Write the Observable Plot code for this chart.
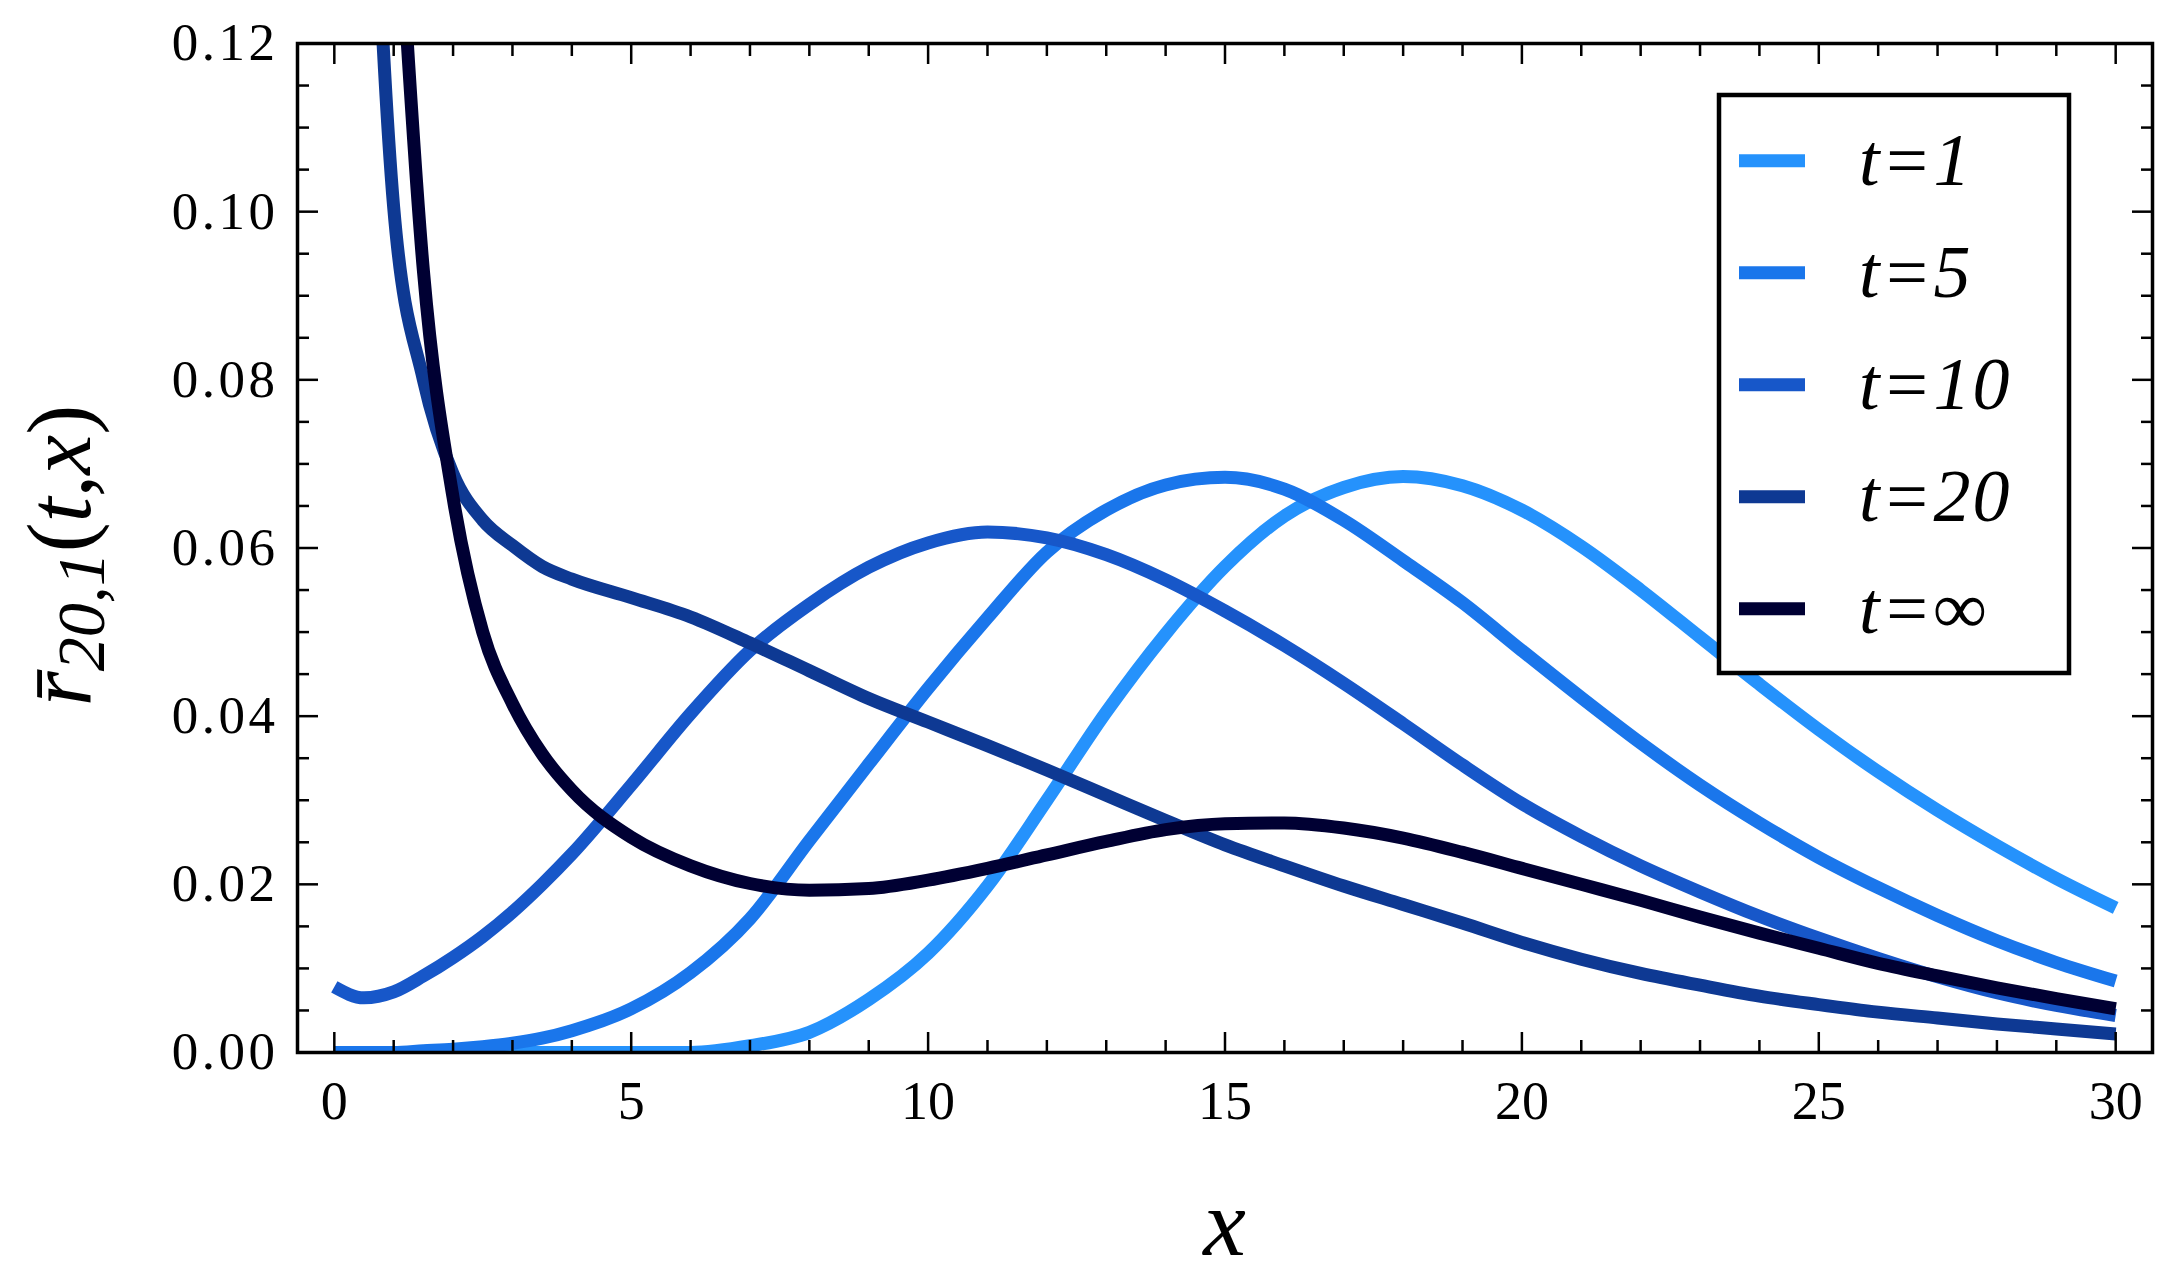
<!DOCTYPE html>
<html><head><meta charset="utf-8">
<script src="https://cdn.jsdelivr.net/npm/d3@7"></script>
<script src="https://cdn.jsdelivr.net/npm/@observablehq/plot@0.6"></script>
<style>
html,body{margin:0;padding:0;background:#fff;}
#wrap{position:relative;width:2179px;height:1288px;overflow:hidden;}
#wrap svg text{font-family:"Liberation Serif","Times New Roman",serif;}
g[aria-label="y-axis tick label"] text{letter-spacing:3.5px;}
</style></head><body><div id="wrap"></div>
<script>
// ---- data ----
const xs = [0, 0.5, 1, 1.5, 2, 2.5, 3, 3.5, 4, 5, 6, 7, 8, 9, 10, 11, 12, 13, 14, 15, 16, 17, 18, 19, 20, 21, 22, 23, 24, 25, 26, 27, 28, 29, 30];
const t1 = [0, 0, 0, 0, 0, 0, 0, 0, 0, 0, 0, 0.0008, 0.0024, 0.0063, 0.0118, 0.0198, 0.0300, 0.0405, 0.0498, 0.0578, 0.0638, 0.0672, 0.0685, 0.0674, 0.0645, 0.0602, 0.0550, 0.0494, 0.0438, 0.0384, 0.0334, 0.0288, 0.0246, 0.0207, 0.0172];
const t5 = [0, 0, 0, 0.0002, 0.0004, 0.0007, 0.0011, 0.0017, 0.0026, 0.0052, 0.0095, 0.0159, 0.0252, 0.0343, 0.0433, 0.0517, 0.0595, 0.0645, 0.0675, 0.0684, 0.0670, 0.0633, 0.0585, 0.0535, 0.0478, 0.0422, 0.0368, 0.0318, 0.0273, 0.0232, 0.0196, 0.0163, 0.0133, 0.0107, 0.0085];
const t10 = [0.0078, 0.0065, 0.0072, 0.0091, 0.0113, 0.0138, 0.0167, 0.0200, 0.0236, 0.0318, 0.0403, 0.0478, 0.0533, 0.0577, 0.0606, 0.0619, 0.0612, 0.0592, 0.0562, 0.0525, 0.0484, 0.0439, 0.0391, 0.0342, 0.0296, 0.0257, 0.0222, 0.0191, 0.0162, 0.0136, 0.0112, 0.0090, 0.0071, 0.0056, 0.0044];
const t20 = [null, 0.170, 0.1005, 0.0800, 0.0688, 0.0633, 0.0603, 0.0578, 0.0563, 0.0541, 0.0518, 0.0487, 0.0454, 0.0421, 0.0393, 0.0365, 0.0336, 0.0306, 0.0276, 0.0247, 0.0222, 0.0198, 0.0176, 0.0154, 0.0131, 0.0111, 0.0094, 0.0080, 0.0067, 0.0057, 0.0048, 0.0041, 0.0034, 0.0028, 0.0022];
const tInf = [null, null, 0.147, 0.093, 0.066, 0.050, 0.0415, 0.0355, 0.0312, 0.0256, 0.0222, 0.0201, 0.0193, 0.0195, 0.0205, 0.0219, 0.0235, 0.0251, 0.0265, 0.0272, 0.0273, 0.0267, 0.0255, 0.0238, 0.0219, 0.0200, 0.0181, 0.0161, 0.0142, 0.0124, 0.0106, 0.0091, 0.0077, 0.0064, 0.0052];

const seriesNames = ["t=1", "t=5", "t=10", "t=20", "t=\u221E"];
const seriesColors = ["#2592fc", "#1a76eb", "#1757c9", "#0e3993", "#000033"];
const seriesValues = [t1, t5, t10, t20, tInf];

const xMajor = [0, 5, 10, 15, 20, 25, 30];
const xTickLabels = ["0", "5", "10", "15", "20", "25", "30"];
const xMinor = [1, 2, 3, 4, 6, 7, 8, 9, 11, 12, 13, 14, 16, 17, 18, 19, 21, 22, 23, 24, 26, 27, 28, 29];
const yMajor = [0, 0.02, 0.04, 0.06, 0.08, 0.10, 0.12];
const yTickLabels = ["0.00", "0.02", "0.04", "0.06", "0.08", "0.10", "0.12"];
const yMinor = [0.005, 0.01, 0.015, 0.025, 0.03, 0.035, 0.045, 0.05, 0.055, 0.065, 0.07, 0.075, 0.085, 0.09, 0.095, 0.105, 0.11, 0.115];

// ---- build ----
const W = 2179, H = 1288;
const M = {left: 297, right: 27, top: 43, bottom: 236};

const rows = seriesNames.flatMap((name, s) =>
  xs.map((x, i) => ({series: name, x, y: seriesValues[s][i]})).filter(d => d.y != null));

const tickStroke = 2.5;
const plot = Plot.plot({
  width: W, height: H,
  marginLeft: M.left, marginRight: M.right, marginTop: M.top, marginBottom: M.bottom,
  x: {domain: [-0.62, 30.62]},
  y: {domain: [0, 0.12]},
  style: {fontFamily: "'Liberation Serif', serif", fontSize: "52px", color: "black", background: "white"},
  marks: [
    ...seriesNames.map((name, s) => Plot.line(rows.filter(d => d.series === name), {
      x: "x", y: "y", stroke: seriesColors[s], strokeWidth: 13, curve: "monotone-x",
      clip: true, strokeLinecap: "butt", strokeLinejoin: "round"
    })),
    Plot.frame({stroke: "black", strokeWidth: 3.5}),
    Plot.axisX(xMajor, {anchor: "bottom", tickSize: -20, tickPadding: 48, strokeWidth: tickStroke,
      tickFormat: d => xTickLabels[xMajor.indexOf(d)], label: null, fontSize: 54}),
    Plot.axisX(xMinor, {anchor: "bottom", tickSize: -12, strokeWidth: tickStroke, fill: "none", label: null}),
    Plot.axisX(xMajor, {anchor: "top", tickSize: -20, strokeWidth: tickStroke, fill: "none", label: null}),
    Plot.axisX(xMinor, {anchor: "top", tickSize: -12, strokeWidth: tickStroke, fill: "none", label: null}),
    Plot.axisY(yMajor, {anchor: "left", tickSize: -21, tickPadding: 40, strokeWidth: tickStroke,
      tickFormat: d => yTickLabels[yMajor.indexOf(d)], label: null, fontSize: 53}),
    Plot.axisY(yMinor, {anchor: "left", tickSize: -12, strokeWidth: tickStroke, fill: "none", label: null}),
    Plot.axisY(yMajor, {anchor: "right", tickSize: -21, strokeWidth: tickStroke, fill: "none", label: null}),
    Plot.axisY(yMinor, {anchor: "right", tickSize: -12, strokeWidth: tickStroke, fill: "none", label: null})
  ]
});
document.getElementById("wrap").appendChild(plot);

const svg = d3.select(plot);
const frameCx = (M.left + W - M.right) / 2;
const frameCy = (M.top + H - M.bottom) / 2;

// x-axis title
svg.append("text")
  .attr("x", frameCx).attr("y", 1255)
  .attr("text-anchor", "middle").attr("font-size", 96).attr("font-style", "italic")
  .attr("fill", "black").text("x");

// y-axis title
const yt = svg.append("text")
  .attr("transform", `translate(90,${frameCy + 8}) rotate(-90)`)
  .attr("text-anchor", "middle").attr("font-size", 90).attr("fill", "black");
yt.append("tspan").attr("font-style", "italic").text("r\u0304");
yt.append("tspan").attr("font-style", "italic").attr("font-size", 68).attr("dy", 14).text("20,1");
yt.append("tspan").attr("dy", -14).text("(");
yt.append("tspan").attr("font-style", "italic").text("t");
yt.append("tspan").text(",");
yt.append("tspan").attr("font-style", "italic").text("x");
yt.append("tspan").text(")");

// legend (boxed, inside the frame, top right)
const lg = svg.append("g");
lg.append("rect").attr("x", 1719).attr("y", 95).attr("width", 350).attr("height", 578)
  .attr("fill", "white").attr("stroke", "black").attr("stroke-width", 4.5);
seriesNames.forEach((name, i) => {
  const cy = 160.7 + 112 * i;
  lg.append("line").attr("x1", 1739).attr("x2", 1805).attr("y1", cy).attr("y2", cy)
    .attr("stroke", seriesColors[i]).attr("stroke-width", 13);
  lg.append("text").attr("x", 1859).attr("y", cy + 24)
    .attr("text-anchor", "start")
    .attr("font-size", 74).attr("font-style", "italic").attr("fill", "black")
    .attr("letter-spacing", 2)
    .text(name);
});
</script>
</body></html>
